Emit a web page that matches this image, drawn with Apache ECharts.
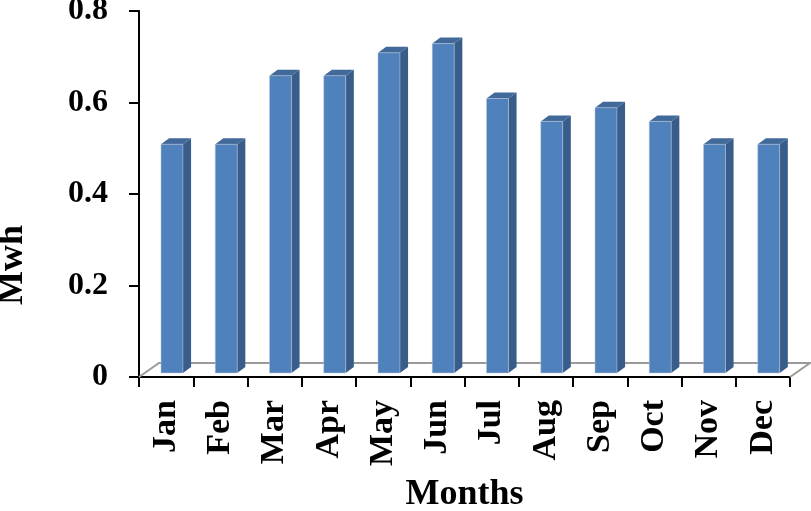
<!DOCTYPE html>
<html>
<head>
<meta charset="utf-8">
<script src="https://cdn.jsdelivr.net/npm/echarts@6/dist/echarts.min.js"></script>
<style>
html,body{margin:0;padding:0;background:#fff;}
#chart{width:811px;height:511px;}
</style>
</head>
<body>
<div id="chart"></div>
<script>
var categories = ['Jan','Feb','Mar','Apr','May','Jun','Jul','Aug','Sep','Oct','Nov','Dec'];
var values = [0.50, 0.50, 0.65, 0.65, 0.70, 0.72, 0.60, 0.55, 0.58, 0.55, 0.50, 0.50];
var yTicks = [0, 0.2, 0.4, 0.6, 0.8];

var FONT = '"Liberation Serif","Times New Roman",serif';
var chart = echarts.init(document.getElementById('chart'), null, {renderer: 'canvas'});

function renderBar(params, api) {
  var idx = api.value(0);
  var v = api.value(1);
  var base = api.coord([idx, 0]);
  var top = api.coord([idx, v]);
  var bw = api.size([1, 0])[0];
  var fx = base[0] - bw * 0.095;
  var fw = bw * 0.405;
  var off = 4;
  var by = base[1] - off;
  var ty = top[1] - off;
  var dx = bw * 0.15, dy = 6;
  return {
    type: 'group',
    children: [
      {type: 'polygon', shape: {points: [[fx + fw, by], [fx + fw + dx, by - dy], [fx + fw + dx, ty - dy], [fx + fw, ty]]},
        style: {fill: '#385D8A'}},
      {type: 'polygon', shape: {points: [[fx, ty], [fx + fw, ty], [fx + fw + dx, ty - dy], [fx + dx, ty - dy]]},
        style: {fill: '#41699A'}},
      {type: 'rect', shape: {x: fx, y: ty, width: fw, height: by - ty},
        style: {fill: '#4F81BD', stroke: 'rgba(200,205,215,0.8)', lineWidth: 0.6}}
    ]
  };
}

function renderFloor(params, api) {
  var cs = params.coordSys;
  var x = cs.x, y = cs.y + cs.height, w = cs.width;
  return {
    type: 'polyline',
    shape: {points: [[x, y], [x + 20, y - 14], [x + w + 20, y - 14], [x + w, y]]},
    style: {stroke: '#9a9a9a', lineWidth: 2, fill: null}
  };
}

var barData = values.map(function (v, i) { return [i, v]; });

chart.setOption({
  animation: false,
  grid: {left: 139, right: 21, top: 11, bottom: 134, containLabel: false, outerBoundsMode: 'none'},
  xAxis: {
    type: 'category',
    data: categories,
    boundaryGap: true,
    name: 'Months',
    nameLocation: 'middle',
    nameGap: 100,
    nameTextStyle: {fontFamily: FONT, fontWeight: 'bold', fontSize: 36, color: '#000'},
    axisLine: {lineStyle: {color: '#000', width: 2}},
    axisTick: {show: true, alignWithLabel: false, length: 10, lineStyle: {color: '#000', width: 2}},
    axisLabel: {rotate: 90, margin: 23, fontFamily: FONT, fontWeight: 'bold', fontSize: 34, color: '#000', interval: 0},
    splitLine: {show: false}
  },
  yAxis: {
    type: 'value',
    min: yTicks[0],
    max: yTicks[yTicks.length - 1],
    interval: 0.2,
    axisLine: {show: true, lineStyle: {color: '#000', width: 2}},
    axisTick: {show: true, length: 10, lineStyle: {color: '#000', width: 2}},
    axisLabel: {margin: 31, fontFamily: FONT, fontWeight: 'bold', fontSize: 32, color: '#000',
      formatter: function (v) { return v === 0 ? '0' : v.toFixed(1); }},
    splitLine: {show: false}
  },
  graphic: [{
    type: 'text',
    x: 13, y: 265,
    rotation: Math.PI / 2,
    style: {text: 'Mwh', fontSize: 36, fontWeight: 'bold', fontFamily: FONT, fill: '#000', align: 'center', verticalAlign: 'middle'}
  }],
  series: [
    {type: 'custom', z: 1, renderItem: renderFloor, data: [[0, 0]], silent: true},
    {type: 'custom', z: 2, renderItem: renderBar, data: barData, encode: {x: 0, y: 1}}
  ]
});
</script>
</body>
</html>
